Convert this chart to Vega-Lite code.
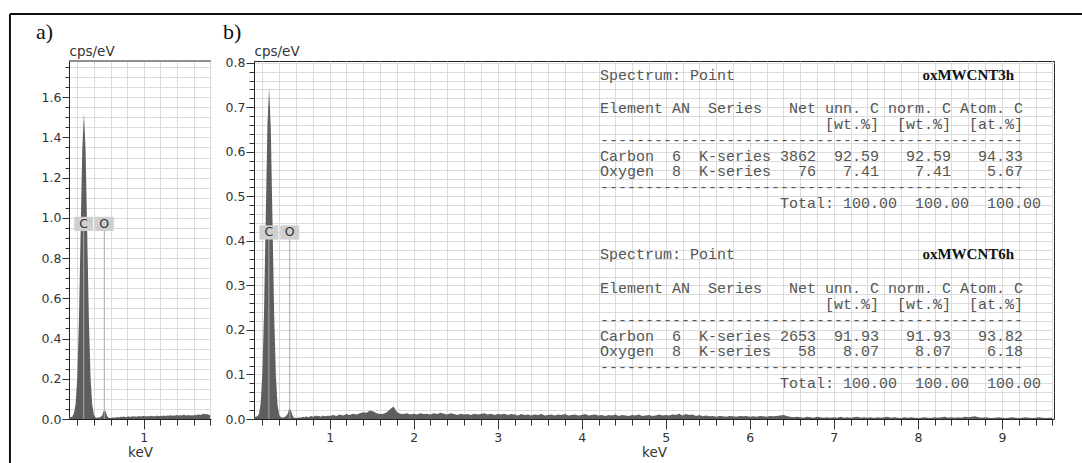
{
"$schema": "https://vega.github.io/schema/vega-lite/v6.json",
"padding": {"left": 8, "top": 12, "right": 0, "bottom": 0},
"background": "white",
"spacing": 43,
"bounds": "flush",
"config": {
  "view": {"stroke": null},
  "axis": {"labelFont": "DejaVu Sans", "labelFontSize": 12.5, "labelColor": "#333", "titleFont": "DejaVu Sans", "titleFontSize": 13.5, "titleFontWeight": "normal", "titleColor": "#333", "domainColor": "#222", "tickColor": "#333", "gridColor": "#dcdcdc", "gridWidth": 1, "labelOverlap": false, "labelFlush": false, "tickCount": 1000}
},
"datasets": {
  "specA": [
    {"e":0.10,"c":0.012},{"e":0.12,"c":0.010},{"e":0.14,"c":0.011},{"e":0.16,"c":0.028},{"e":0.18,"c":0.075},{"e":0.20,"c":0.21},{"e":0.22,"c":0.50},{"e":0.24,"c":0.93},{"e":0.26,"c":1.34},{"e":0.28,"c":1.52},{"e":0.30,"c":1.33},{"e":0.32,"c":0.91},{"e":0.34,"c":0.48},{"e":0.36,"c":0.20},{"e":0.38,"c":0.07},{"e":0.40,"c":0.022},{"e":0.42,"c":0.008},{"e":0.44,"c":0.006},{"e":0.46,"c":0.008},{"e":0.48,"c":0.010},{"e":0.50,"c":0.018},{"e":0.52,"c":0.042},{"e":0.54,"c":0.038},{"e":0.56,"c":0.012},{"e":0.58,"c":0.006},{"e":0.60,"c":0.005},{"e":0.62,"c":0.007},{"e":0.64,"c":0.006},{"e":0.66,"c":0.008},{"e":0.68,"c":0.010},{"e":0.70,"c":0.008},{"e":0.72,"c":0.011},{"e":0.74,"c":0.010},{"e":0.76,"c":0.012},{"e":0.78,"c":0.009},{"e":0.80,"c":0.011},{"e":0.82,"c":0.013},{"e":0.84,"c":0.010},{"e":0.86,"c":0.014},{"e":0.88,"c":0.012},{"e":0.90,"c":0.013},{"e":0.92,"c":0.011},{"e":0.94,"c":0.015},{"e":0.96,"c":0.012},{"e":0.98,"c":0.014},{"e":1.00,"c":0.016},{"e":1.02,"c":0.013},{"e":1.04,"c":0.015},{"e":1.06,"c":0.012},{"e":1.08,"c":0.016},{"e":1.10,"c":0.014},{"e":1.12,"c":0.015},{"e":1.14,"c":0.013},{"e":1.16,"c":0.017},{"e":1.18,"c":0.014},{"e":1.20,"c":0.016},{"e":1.22,"c":0.015},{"e":1.24,"c":0.018},{"e":1.26,"c":0.015},{"e":1.28,"c":0.017},{"e":1.30,"c":0.016},{"e":1.32,"c":0.019},{"e":1.34,"c":0.016},{"e":1.36,"c":0.018},{"e":1.38,"c":0.017},{"e":1.40,"c":0.020},{"e":1.42,"c":0.018},{"e":1.44,"c":0.019},{"e":1.46,"c":0.017},{"e":1.48,"c":0.021},{"e":1.50,"c":0.019},{"e":1.52,"c":0.018},{"e":1.54,"c":0.020},{"e":1.56,"c":0.017},{"e":1.58,"c":0.019},{"e":1.60,"c":0.018},{"e":1.62,"c":0.021},{"e":1.64,"c":0.019},{"e":1.66,"c":0.024},{"e":1.68,"c":0.020},{"e":1.70,"c":0.022},{"e":1.72,"c":0.026},{"e":1.74,"c":0.023},{"e":1.76,"c":0.025},{"e":1.78,"c":0.021},{"e":1.80,"c":0.020}
  ],
  "specB": [
    {"e":0.10,"c":0.006},{"e":0.12,"c":0.005},{"e":0.14,"c":0.006},{"e":0.16,"c":0.012},{"e":0.18,"c":0.036},{"e":0.20,"c":0.104},{"e":0.22,"c":0.245},{"e":0.24,"c":0.455},{"e":0.26,"c":0.66},{"e":0.28,"c":0.744},{"e":0.30,"c":0.65},{"e":0.32,"c":0.445},{"e":0.34,"c":0.235},{"e":0.36,"c":0.098},{"e":0.38,"c":0.032},{"e":0.40,"c":0.009},{"e":0.42,"c":0.004},{"e":0.44,"c":0.003},{"e":0.46,"c":0.004},{"e":0.48,"c":0.006},{"e":0.50,"c":0.011},{"e":0.52,"c":0.024},{"e":0.54,"c":0.019},{"e":0.56,"c":0.007},{"e":0.58,"c":0.003},{"e":0.60,"c":0.002},{"e":0.62,"c":0.003},{"e":0.64,"c":0.004},{"e":0.66,"c":0.003},{"e":0.68,"c":0.005},{"e":0.70,"c":0.004},{"e":0.72,"c":0.006},{"e":0.74,"c":0.004},{"e":0.76,"c":0.005},{"e":0.78,"c":0.007},{"e":0.80,"c":0.005},{"e":0.82,"c":0.006},{"e":0.84,"c":0.008},{"e":0.86,"c":0.006},{"e":0.88,"c":0.007},{"e":0.90,"c":0.005},{"e":0.92,"c":0.008},{"e":0.94,"c":0.007},{"e":0.96,"c":0.006},{"e":0.98,"c":0.008},{"e":1.00,"c":0.007},
    {"e":1.04,"c":0.009},{"e":1.08,"c":0.007},{"e":1.12,"c":0.010},{"e":1.16,"c":0.008},{"e":1.20,"c":0.011},{"e":1.24,"c":0.009},{"e":1.28,"c":0.012},{"e":1.32,"c":0.010},{"e":1.36,"c":0.013},{"e":1.40,"c":0.015},{"e":1.44,"c":0.014},{"e":1.48,"c":0.019},{"e":1.52,"c":0.017},{"e":1.56,"c":0.013},{"e":1.60,"c":0.011},{"e":1.64,"c":0.012},{"e":1.68,"c":0.015},{"e":1.72,"c":0.022},{"e":1.76,"c":0.028},{"e":1.80,"c":0.016},{"e":1.84,"c":0.012},{"e":1.88,"c":0.011},{"e":1.92,"c":0.013},{"e":1.96,"c":0.010},{"e":2.00,"c":0.012},{"e":2.04,"c":0.010},{"e":2.08,"c":0.013},{"e":2.12,"c":0.011},{"e":2.16,"c":0.012},{"e":2.20,"c":0.010},{"e":2.24,"c":0.013},{"e":2.28,"c":0.011},{"e":2.32,"c":0.014},{"e":2.36,"c":0.012},{"e":2.40,"c":0.010},{"e":2.44,"c":0.013},{"e":2.48,"c":0.011},{"e":2.52,"c":0.009},{"e":2.56,"c":0.012},{"e":2.60,"c":0.010},{"e":2.64,"c":0.011},{"e":2.68,"c":0.009},{"e":2.72,"c":0.012},{"e":2.76,"c":0.010},{"e":2.80,"c":0.011},{"e":2.84,"c":0.013},{"e":2.88,"c":0.010},{"e":2.92,"c":0.012},{"e":2.96,"c":0.009},{"e":3.00,"c":0.011},{"e":3.04,"c":0.010},{"e":3.08,"c":0.012},{"e":3.12,"c":0.009},{"e":3.16,"c":0.011},{"e":3.20,"c":0.010},{"e":3.24,"c":0.008},{"e":3.28,"c":0.011},{"e":3.32,"c":0.009},{"e":3.36,"c":0.010},{"e":3.40,"c":0.008},{"e":3.44,"c":0.010},{"e":3.48,"c":0.009},{"e":3.52,"c":0.011},{"e":3.56,"c":0.008},{"e":3.60,"c":0.009},{"e":3.64,"c":0.010},{"e":3.68,"c":0.008},{"e":3.72,"c":0.010},{"e":3.76,"c":0.009},{"e":3.80,"c":0.011},{"e":3.84,"c":0.008},{"e":3.88,"c":0.009},{"e":3.92,"c":0.010},{"e":3.96,"c":0.008},{"e":4.00,"c":0.009},{"e":4.04,"c":0.011},{"e":4.08,"c":0.008},{"e":4.12,"c":0.009},{"e":4.16,"c":0.010},{"e":4.20,"c":0.008},{"e":4.24,"c":0.009},{"e":4.28,"c":0.007},{"e":4.32,"c":0.009},{"e":4.36,"c":0.008},{"e":4.40,"c":0.010},{"e":4.44,"c":0.007},{"e":4.48,"c":0.009},{"e":4.52,"c":0.008},{"e":4.56,"c":0.007},{"e":4.60,"c":0.009},{"e":4.64,"c":0.008},{"e":4.68,"c":0.010},{"e":4.72,"c":0.007},{"e":4.76,"c":0.008},{"e":4.80,"c":0.009},{"e":4.84,"c":0.007},{"e":4.88,"c":0.008},{"e":4.92,"c":0.010},{"e":4.96,"c":0.008},{"e":5.00,"c":0.009},{"e":5.04,"c":0.008},{"e":5.08,"c":0.010},{"e":5.12,"c":0.009},{"e":5.16,"c":0.012},{"e":5.20,"c":0.008},{"e":5.24,"c":0.011},{"e":5.28,"c":0.009},{"e":5.32,"c":0.010},{"e":5.36,"c":0.007},{"e":5.40,"c":0.009},{"e":5.44,"c":0.006},{"e":5.48,"c":0.008},{"e":5.52,"c":0.006},{"e":5.56,"c":0.007},{"e":5.60,"c":0.005},{"e":5.64,"c":0.007},{"e":5.68,"c":0.006},{"e":5.72,"c":0.005},{"e":5.76,"c":0.007},{"e":5.80,"c":0.006},{"e":5.84,"c":0.005},{"e":5.88,"c":0.007},{"e":5.92,"c":0.006},{"e":5.96,"c":0.007},{"e":6.00,"c":0.005},{"e":6.04,"c":0.006},{"e":6.08,"c":0.005},{"e":6.12,"c":0.007},{"e":6.16,"c":0.006},{"e":6.20,"c":0.005},{"e":6.24,"c":0.007},{"e":6.28,"c":0.006},{"e":6.32,"c":0.007},{"e":6.36,"c":0.008},{"e":6.40,"c":0.009},{"e":6.44,"c":0.007},{"e":6.48,"c":0.005},{"e":6.52,"c":0.004},{"e":6.56,"c":0.005},{"e":6.60,"c":0.004},{"e":6.64,"c":0.003},{"e":6.68,"c":0.005},{"e":6.72,"c":0.004},{"e":6.76,"c":0.003},{"e":6.80,"c":0.005},{"e":6.84,"c":0.004},{"e":6.88,"c":0.003},{"e":6.92,"c":0.004},{"e":6.96,"c":0.003},{"e":7.00,"c":0.004},{"e":7.04,"c":0.003},{"e":7.08,"c":0.005},{"e":7.12,"c":0.003},{"e":7.16,"c":0.004},{"e":7.20,"c":0.003},{"e":7.24,"c":0.004},{"e":7.28,"c":0.005},{"e":7.32,"c":0.003},{"e":7.36,"c":0.004},{"e":7.40,"c":0.003},{"e":7.44,"c":0.004},{"e":7.48,"c":0.002},{"e":7.52,"c":0.004},{"e":7.56,"c":0.003},{"e":7.60,"c":0.004},{"e":7.64,"c":0.005},{"e":7.68,"c":0.003},{"e":7.72,"c":0.004},{"e":7.76,"c":0.003},{"e":7.80,"c":0.002},{"e":7.84,"c":0.004},{"e":7.88,"c":0.003},{"e":7.92,"c":0.004},{"e":7.96,"c":0.003},{"e":8.00,"c":0.002},{"e":8.04,"c":0.003},{"e":8.08,"c":0.004},{"e":8.12,"c":0.003},{"e":8.16,"c":0.002},{"e":8.20,"c":0.004},{"e":8.24,"c":0.003},{"e":8.28,"c":0.004},{"e":8.32,"c":0.005},{"e":8.36,"c":0.003},{"e":8.40,"c":0.004},{"e":8.44,"c":0.003},{"e":8.48,"c":0.004},{"e":8.52,"c":0.003},{"e":8.56,"c":0.005},{"e":8.60,"c":0.004},{"e":8.64,"c":0.005},{"e":8.68,"c":0.006},{"e":8.72,"c":0.004},{"e":8.76,"c":0.003},{"e":8.80,"c":0.004},{"e":8.84,"c":0.003},{"e":8.88,"c":0.002},{"e":8.92,"c":0.003},{"e":8.96,"c":0.004},{"e":9.00,"c":0.003},{"e":9.04,"c":0.002},{"e":9.08,"c":0.003},{"e":9.12,"c":0.004},{"e":9.16,"c":0.003},{"e":9.20,"c":0.002},{"e":9.24,"c":0.003},{"e":9.28,"c":0.004},{"e":9.32,"c":0.003},{"e":9.36,"c":0.002},{"e":9.40,"c":0.003},{"e":9.44,"c":0.004},{"e":9.48,"c":0.003},{"e":9.52,"c":0.002},{"e":9.56,"c":0.003},{"e":9.60,"c":0.003}
  ],
  "lines": [{"el":"C","E":0.277},{"el":"O","E":0.525}],
  "table": [
    {"t":"Spectrum:\u00a0Point","x":4.2176,"y":0.7726},
    {"t":"Element\u00a0AN\u00a0\u00a0Series\u00a0\u00a0\u00a0Net\u00a0unn.\u00a0C\u00a0norm.\u00a0C\u00a0Atom.\u00a0C","x":4.2176,"y":0.6985},
    {"t":"[wt.%]\u00a0\u00a0[wt.%]\u00a0\u00a0[at.%]","x":6.8952,"y":0.6625},
    {"t":"-----------------------------------------------","x":4.2176,"y":0.6266},
    {"t":"Carbon\u00a0\u00a06\u00a0\u00a0K-series\u00a03862\u00a0\u00a092.59\u00a0\u00a0\u00a092.59\u00a0\u00a0\u00a094.33","x":4.2176,"y":0.5907},
    {"t":"Oxygen\u00a0\u00a08\u00a0\u00a0K-series\u00a0\u00a0\u00a076\u00a0\u00a0\u00a07.41\u00a0\u00a0\u00a0\u00a07.41\u00a0\u00a0\u00a0\u00a05.67","x":4.2176,"y":0.5570},
    {"t":"-----------------------------------------------","x":4.2176,"y":0.5210},
    {"t":"Total:\u00a0100.00\u00a0\u00a0100.00\u00a0\u00a0100.00","x":6.3597,"y":0.4851},
    {"t":"Spectrum:\u00a0Point","x":4.2176,"y":0.3706},
    {"t":"Element\u00a0AN\u00a0\u00a0Series\u00a0\u00a0\u00a0Net\u00a0unn.\u00a0C\u00a0norm.\u00a0C\u00a0Atom.\u00a0C","x":4.2176,"y":0.2942},
    {"t":"[wt.%]\u00a0\u00a0[wt.%]\u00a0\u00a0[at.%]","x":6.8952,"y":0.2583},
    {"t":"-----------------------------------------------","x":4.2176,"y":0.2223},
    {"t":"Carbon\u00a0\u00a06\u00a0\u00a0K-series\u00a02653\u00a0\u00a091.93\u00a0\u00a0\u00a091.93\u00a0\u00a0\u00a093.82","x":4.2176,"y":0.1864},
    {"t":"Oxygen\u00a0\u00a08\u00a0\u00a0K-series\u00a0\u00a0\u00a058\u00a0\u00a0\u00a08.07\u00a0\u00a0\u00a0\u00a08.07\u00a0\u00a0\u00a0\u00a06.18","x":4.2176,"y":0.1527},
    {"t":"-----------------------------------------------","x":4.2176,"y":0.1168},
    {"t":"Total:\u00a0100.00\u00a0\u00a0100.00\u00a0\u00a0100.00","x":6.3597,"y":0.0808}
  ],
  "names": [
    {"t":"oxMWCNT3h","x":8.6,"y":0.7726},
    {"t":"oxMWCNT6h","x":8.6,"y":0.3706}
  ]
},
"hconcat": [
  {
    "width": 142, "height": 358,
    "layer": [
      {"data": {"name": "specA"}, "mark": {"type": "area", "color": "#5e5e5e", "clip": true},
       "encoding": {
         "x": {"field": "e", "type": "quantitative", "title": "keV",
               "scale": {"domain": [0.1, 1.81], "nice": false, "zero": false},
               "axis": {"values": [0.2,0.4,0.6,0.8,1.0,1.2,1.4,1.6,1.8],
                        "labelExpr": "abs(datum.value - round(datum.value)) < 0.001 ? format(datum.value, 'd') : ''",
                        "tickSize": {"condition": {"test": "abs(datum.value - round(datum.value)) < 0.001", "value": 10}, "value": 6},
                        "grid": true, "labelPadding": 2, "titlePadding": 2}},
         "y": {"field": "c", "type": "quantitative", "title": "cps/eV",
               "scale": {"domain": [0, 1.78], "nice": false},
               "axis": {"values": [0,0.05,0.1,0.15,0.2,0.25,0.3,0.35,0.4,0.45,0.5,0.55,0.6,0.65,0.7,0.75,0.8,0.85,0.9,0.95,1.0,1.05,1.1,1.15,1.2,1.25,1.3,1.35,1.4,1.45,1.5,1.55,1.6,1.65,1.7,1.75],
                        "labelExpr": "abs(datum.value/0.2 - round(datum.value/0.2)) < 0.001 ? format(datum.value, '.1f') : ''",
                        "tickSize": {"condition": {"test": "abs(datum.value/0.2 - round(datum.value/0.2)) < 0.001", "value": 7}, "value": 4},
                        "grid": true, "labelPadding": 1,
                        "titleAngle": 0, "titleX": 0, "titleY": -3, "titleAlign": "left", "titleBaseline": "bottom"}}
       }},
      {"data": {"values": [{}]}, "mark": {"type": "rule", "color": "#222", "strokeWidth": 1},
       "encoding": {"x": {"datum": 0.1}, "x2": {"datum": 1.81}, "y": {"datum": 1.78}}},
      {"data": {"name": "lines"}, "mark": {"type": "rule", "color": "#a8a8a8", "strokeWidth": 1},
       "encoding": {"x": {"field": "E", "type": "quantitative", "title": "keV"}, "y": {"datum": 0}, "y2": {"datum": 0.935}}},
      {"data": {"name": "lines"}, "mark": {"type": "point", "shape": "M-1,-0.75H1V0.75H-1Z", "filled": true, "color": "#cfcfcf", "opacity": 1, "size": 361},
       "encoding": {"x": {"field": "E", "type": "quantitative", "title": "keV"}, "y": {"datum": 0.97}}},
      {"data": {"name": "lines"}, "mark": {"type": "text", "font": "DejaVu Sans", "fontSize": 12.5, "color": "#333"},
       "encoding": {"x": {"field": "E", "type": "quantitative", "title": "keV"}, "y": {"datum": 0.97}, "text": {"field": "el"}}},
      {"data": {"values": [{"t": "a)"}]}, "mark": {"type": "text", "font": "Liberation Serif", "fontSize": 22, "color": "#111", "align": "left", "baseline": "alphabetic"},
       "encoding": {"x": {"datum": -0.2976}, "y": {"datum": 1.889}, "text": {"field": "t"}}},
      {"data": {"values": [{}]}, "mark": {"type": "rule", "color": "#111", "strokeWidth": 2},
       "encoding": {"x": {"datum": -0.611}, "x2": {"datum": 12.31}, "y": {"datum": 2.014}}},
      {"data": {"values": [{}]}, "mark": {"type": "rule", "color": "#111", "strokeWidth": 2},
       "encoding": {"x": {"datum": -0.611}, "y": {"datum": -0.3}, "y2": {"datum": 2.014}}}
    ]
  },
  {
    "width": 800, "height": 358,
    "view": {"stroke": "#222"},
    "layer": [
      {"data": {"name": "specB"}, "mark": {"type": "area", "color": "#5e5e5e", "clip": true},
       "encoding": {
         "x": {"field": "e", "type": "quantitative", "title": "keV",
               "scale": {"domain": [0.1, 9.62], "nice": false, "zero": false},
               "axis": {"values": [0.2,0.4,0.6,0.8,1.0,1.2,1.4,1.6,1.8,2.0,2.2,2.4,2.6,2.8,3.0,3.2,3.4,3.6,3.8,4.0,4.2,4.4,4.6,4.8,5.0,5.2,5.4,5.6,5.8,6.0,6.2,6.4,6.6,6.8,7.0,7.2,7.4,7.6,7.8,8.0,8.2,8.4,8.6,8.8,9.0,9.2,9.4,9.6],
                        "labelExpr": "abs(datum.value - round(datum.value)) < 0.001 ? format(datum.value, 'd') : ''",
                        "tickSize": {"condition": {"test": "abs(datum.value - round(datum.value)) < 0.001", "value": 10}, "value": 6},
                        "grid": true, "labelPadding": 2, "titlePadding": 2}},
         "y": {"field": "c", "type": "quantitative", "title": "cps/eV",
               "scale": {"domain": [0, 0.804], "nice": false},
               "axis": {"values": [0,0.02,0.04,0.06,0.08,0.1,0.12,0.14,0.16,0.18,0.2,0.22,0.24,0.26,0.28,0.3,0.32,0.34,0.36,0.38,0.4,0.42,0.44,0.46,0.48,0.5,0.52,0.54,0.56,0.58,0.6,0.62,0.64,0.66,0.68,0.7,0.72,0.74,0.76,0.78,0.8],
                        "labelExpr": "abs(datum.value/0.1 - round(datum.value/0.1)) < 0.001 ? format(datum.value, '.1f') : ''",
                        "tickSize": {"condition": {"test": "abs(datum.value/0.1 - round(datum.value/0.1)) < 0.001", "value": 8}, "value": 5},
                        "grid": true, "labelPadding": 1,
                        "titleAngle": 0, "titleX": 0, "titleY": -3, "titleAlign": "left", "titleBaseline": "bottom"}}
       }},
      {"data": {"name": "lines"}, "mark": {"type": "rule", "color": "#a8a8a8", "strokeWidth": 1},
       "encoding": {"x": {"field": "E", "type": "quantitative", "title": "keV"}, "y": {"datum": 0}, "y2": {"datum": 0.404}}},
      {"data": {"name": "lines"}, "mark": {"type": "point", "shape": "M-1,-0.75H1V0.75H-1Z", "filled": true, "color": "#cfcfcf", "opacity": 1, "size": 361},
       "encoding": {"x": {"field": "E", "type": "quantitative", "title": "keV"}, "y": {"datum": 0.419}}},
      {"data": {"name": "lines"}, "mark": {"type": "text", "font": "DejaVu Sans", "fontSize": 12.5, "color": "#333"},
       "encoding": {"x": {"field": "E", "type": "quantitative", "title": "keV"}, "y": {"datum": 0.419}, "text": {"field": "el"}}},
      {"data": {"values": [{"t": "b)"}]}, "mark": {"type": "text", "font": "Liberation Serif", "fontSize": 22, "color": "#111", "align": "left", "baseline": "alphabetic"},
       "encoding": {"x": {"datum": -0.269}, "y": {"datum": 0.8534}, "text": {"field": "t"}}},
      {"data": {"name": "table"}, "mark": {"type": "text", "font": "Liberation Mono", "fontSize": 15, "color": "#555", "align": "left", "baseline": "middle"},
       "encoding": {"x": {"field": "x", "type": "quantitative", "title": "keV"}, "y": {"field": "y", "type": "quantitative", "title": "cps/eV"}, "text": {"field": "t"}}},
      {"data": {"name": "names"}, "mark": {"type": "text", "font": "Liberation Serif", "fontSize": 15, "fontWeight": "bold", "color": "#111", "align": "center", "baseline": "middle"},
       "encoding": {"x": {"field": "x", "type": "quantitative", "title": "keV"}, "y": {"field": "y", "type": "quantitative", "title": "cps/eV"}, "text": {"field": "t"}}}
    ]
  }
]
}
